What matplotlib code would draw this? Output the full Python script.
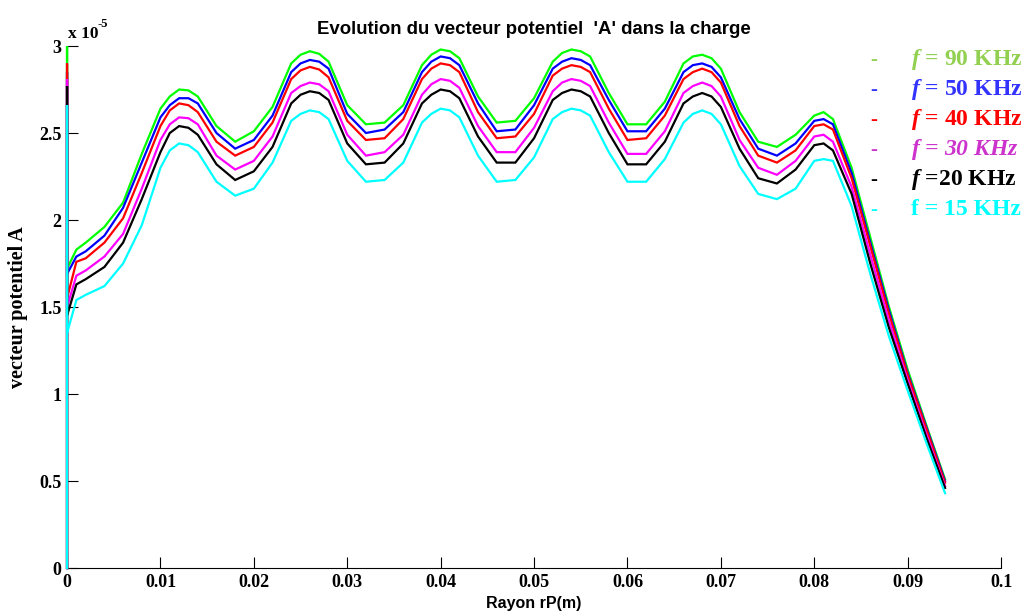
import matplotlib
matplotlib.use("Agg")
import matplotlib.pyplot as plt
from matplotlib.ticker import FuncFormatter

# Rayon (m) - sampling of the curves
r = [0.000, 0.001, 0.002, 0.004, 0.006, 0.008, 0.010, 0.011, 0.012, 0.013,
     0.014, 0.016, 0.018, 0.020, 0.022, 0.024, 0.025, 0.026, 0.027, 0.028,
     0.030, 0.032, 0.034, 0.036, 0.038, 0.039, 0.040, 0.041, 0.042, 0.044,
     0.046, 0.048, 0.050, 0.052, 0.053, 0.054, 0.055, 0.056, 0.058, 0.060,
     0.062, 0.064, 0.066, 0.067, 0.068, 0.069, 0.070, 0.072, 0.074, 0.076,
     0.078, 0.080, 0.081, 0.082, 0.084, 0.086, 0.088, 0.090, 0.092, 0.094]

# vecteur potentiel A, in units of 1e-5
a_90 = [1.72, 1.83, 1.87, 1.96, 2.10, 2.38, 2.64, 2.71, 2.75, 2.745,
        2.71, 2.54, 2.45, 2.51, 2.65, 2.90, 2.95, 2.97, 2.955, 2.91,
        2.66, 2.55, 2.56, 2.66, 2.89, 2.95, 2.98, 2.97, 2.93, 2.71,
        2.56, 2.57, 2.70, 2.91, 2.96, 2.98, 2.97, 2.94, 2.73, 2.55,
        2.55, 2.68, 2.90, 2.94, 2.95, 2.93, 2.87, 2.62, 2.45, 2.42,
        2.49, 2.60, 2.62, 2.58, 2.30, 1.90, 1.50, 1.14, 0.82, 0.51]
a_50 = [1.69, 1.79, 1.82, 1.91, 2.07, 2.33, 2.59, 2.66, 2.70, 2.70,
        2.67, 2.50, 2.41, 2.46, 2.60, 2.85, 2.90, 2.92, 2.91, 2.87,
        2.61, 2.50, 2.52, 2.62, 2.85, 2.91, 2.94, 2.93, 2.89, 2.67,
        2.51, 2.52, 2.66, 2.87, 2.91, 2.93, 2.92, 2.89, 2.69, 2.51,
        2.51, 2.64, 2.85, 2.89, 2.90, 2.88, 2.82, 2.58, 2.41, 2.37,
        2.44, 2.57, 2.58, 2.55, 2.27, 1.87, 1.48, 1.12, 0.81, 0.50]
a_40 = [1.55, 1.76, 1.78, 1.87, 2.01, 2.27, 2.54, 2.63, 2.67, 2.66,
        2.62, 2.45, 2.37, 2.42, 2.56, 2.81, 2.86, 2.88, 2.865, 2.82,
        2.57, 2.46, 2.47, 2.58, 2.81, 2.87, 2.90, 2.89, 2.85, 2.62,
        2.47, 2.48, 2.61, 2.83, 2.87, 2.89, 2.88, 2.85, 2.64, 2.46,
        2.47, 2.60, 2.81, 2.85, 2.87, 2.85, 2.79, 2.54, 2.37, 2.33,
        2.40, 2.54, 2.55, 2.52, 2.24, 1.85, 1.46, 1.11, 0.80, 0.49]
a_30 = [1.50, 1.68, 1.71, 1.79, 1.92, 2.18, 2.46, 2.55, 2.59, 2.585,
        2.55, 2.37, 2.29, 2.34, 2.48, 2.73, 2.77, 2.79, 2.78, 2.74,
        2.49, 2.37, 2.39, 2.49, 2.72, 2.78, 2.81, 2.80, 2.76, 2.54,
        2.39, 2.39, 2.53, 2.74, 2.79, 2.81, 2.80, 2.77, 2.56, 2.38,
        2.38, 2.51, 2.73, 2.77, 2.79, 2.77, 2.71, 2.46, 2.30, 2.26,
        2.34, 2.48, 2.49, 2.45, 2.19, 1.80, 1.42, 1.08, 0.77, 0.47]
a_20 = [1.45, 1.63, 1.66, 1.73, 1.87, 2.12, 2.39, 2.50, 2.54, 2.53,
        2.49, 2.32, 2.23, 2.28, 2.42, 2.67, 2.72, 2.74, 2.73, 2.69,
        2.44, 2.32, 2.33, 2.44, 2.67, 2.72, 2.75, 2.74, 2.70, 2.48,
        2.33, 2.33, 2.47, 2.69, 2.73, 2.75, 2.74, 2.71, 2.50, 2.32,
        2.32, 2.45, 2.67, 2.71, 2.73, 2.71, 2.65, 2.41, 2.24, 2.21,
        2.29, 2.43, 2.44, 2.40, 2.15, 1.75, 1.38, 1.06, 0.75, 0.46]
a_15 = [1.35, 1.54, 1.57, 1.62, 1.75, 1.97, 2.30, 2.40, 2.44, 2.43,
        2.39, 2.22, 2.14, 2.18, 2.33, 2.57, 2.61, 2.63, 2.62, 2.58,
        2.34, 2.22, 2.23, 2.33, 2.56, 2.61, 2.64, 2.63, 2.59, 2.37,
        2.22, 2.23, 2.36, 2.58, 2.62, 2.64, 2.63, 2.60, 2.39, 2.22,
        2.22, 2.35, 2.56, 2.61, 2.63, 2.61, 2.55, 2.31, 2.15, 2.12,
        2.18, 2.34, 2.35, 2.34, 2.08, 1.69, 1.33, 1.02, 0.72, 0.43]

# each curve first runs up the axis at r = 0 before its first sample
axis_top = [3.00, 2.85, 2.90, 2.81, 2.77, 2.66]

series = [a_90, a_50, a_40, a_30, a_20, a_15]
line_colors = ['#00ff00', '#0000ff', '#ff0000', '#ff00ff', '#000000', '#00ffff']
label_colors = ['#92d050', '#3333ff', '#ff0000', '#cc33cc', '#000000', '#00ffff']
labels = ['$f$ = 90 KHz', '$f$ = 50 KHz', '$f$ = 40 KHz',
          '$f$ = 30 KHz', '$f$ =20 KHz', 'f = 15 KHz']
label_italic = [False, False, False, True, False, False]

plt.rcParams['mathtext.fontset'] = 'custom'
plt.rcParams['mathtext.it'] = 'Liberation Serif:italic:bold'
plt.rcParams['mathtext.rm'] = 'Liberation Serif:bold'

fig = plt.figure(figsize=(10.33, 6.16), dpi=100)
ax = fig.add_axes([0.0649, 0.0779, 0.9042, 0.8474])

for vals, top, col in zip(series, axis_top, line_colors):
    ax.plot([0.0, 0.0] + r, [0.0, top] + vals, color=col, lw=1.6,
            solid_joinstyle='miter', zorder=3, clip_on=False)

ax.set_xlim(0, 0.1)
ax.set_ylim(0, 3)
ax.set_xticks([0, 0.01, 0.02, 0.03, 0.04, 0.05, 0.06, 0.07, 0.08, 0.09, 0.1])
ax.set_yticks([0, 0.5, 1, 1.5, 2, 2.5, 3])
ax.xaxis.set_major_formatter(FuncFormatter(lambda v, p: '%g' % v))
ax.yaxis.set_major_formatter(FuncFormatter(lambda v, p: '%g' % v))
ax.tick_params(direction='in', length=8, width=0.8, pad=4)
for lab in ax.get_xticklabels() + ax.get_yticklabels():
    lab.set_fontfamily('Liberation Serif')
    lab.set_fontweight('bold')
    lab.set_fontsize(13)
ax.spines['top'].set_visible(False)
ax.spines['right'].set_visible(False)

# MATLAB style exponent above the y axis
ax.text(0.00005, 3.025, 'x 10', fontfamily='Liberation Serif',
        fontweight='bold', fontsize=12.5, ha='left', va='bottom')
ax.text(0.0033, 3.09, '-5', fontfamily='Liberation Serif',
        fontweight='bold', fontsize=9, ha='left', va='bottom')

ax.set_title("Evolution du vecteur potentiel  'A' dans la charge",
             fontfamily='Liberation Sans', fontweight='bold', fontsize=13.4,
             pad=9)
ax.set_xlabel('Rayon rP(m)', fontfamily='Liberation Sans', fontweight='bold',
              fontsize=11.5, labelpad=4)
ax.set_ylabel('vecteur potentiel A', fontfamily='Liberation Serif',
              fontweight='bold', fontsize=14.5, labelpad=8)

# legend drawn as coloured text rows at the upper right
for i, (lab, col, it) in enumerate(zip(labels, label_colors, label_italic)):
    y = 0.9026 - i * 0.0487
    fig.text(0.842, y, '-', color=col, fontfamily='Liberation Serif',
             fontweight='bold', fontsize=15, ha='left', va='center')
    fig.text(0.882, y, lab, color=col, fontfamily='Liberation Serif',
             fontweight='bold', fontstyle='italic' if it else 'normal',
             fontsize=17, ha='left', va='center')

fig.savefig('out.png', dpi=100)
